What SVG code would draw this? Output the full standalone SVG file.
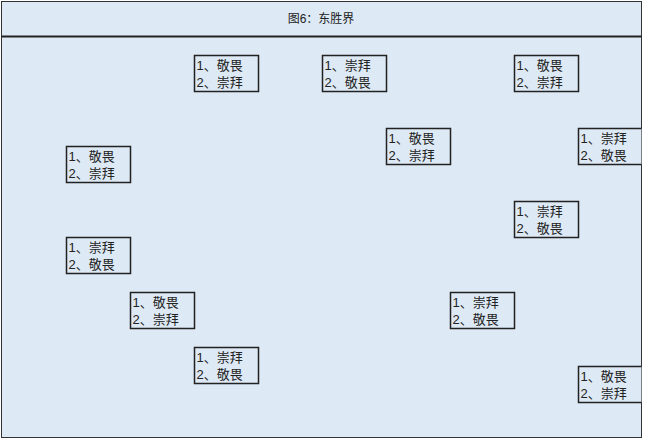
<svg xmlns="http://www.w3.org/2000/svg" width="647" height="441" viewBox="0 0 647 441">
<style>
.bg{fill:#dde9f5;stroke:#333;stroke-width:1}
.box{fill:#dde9f5;stroke:#222;stroke-width:1.5}
text{font-family:"Liberation Sans","Noto Sans CJK SC",sans-serif;font-size:13px;fill:#222}
.title{font-size:12px}
</style>
<rect x="0" y="0" width="647" height="441" fill="#ffffff"/>
<rect class="bg" x="1.5" y="1.5" width="640" height="436"/>
<line x1="1.5" y1="36.5" x2="641.5" y2="36.5" stroke="#222" stroke-width="2"/>
<text class="title" x="321" y="23" text-anchor="middle">图6：东胜界</text>
<defs>
<clipPath id="frame"><rect x="1.5" y="1.5" width="640" height="436"/></clipPath>
</defs>
<g clip-path="url(#frame)">
<g id="n1" transform="translate(194.5,55.5)"><rect class="box" width="64" height="36"/><text x="2" y="14">1、敬畏</text><text x="2" y="31">2、崇拜</text></g>
<g id="n2" transform="translate(322.5,55.5)"><rect class="box" width="64" height="36"/><text x="2" y="14">1、崇拜</text><text x="2" y="31">2、敬畏</text></g>
<g id="n3" transform="translate(514.5,55.5)"><rect class="box" width="64" height="36"/><text x="2" y="14">1、敬畏</text><text x="2" y="31">2、崇拜</text></g>
<g id="n4" transform="translate(386.5,128.5)"><rect class="box" width="64" height="36"/><text x="2" y="14">1、敬畏</text><text x="2" y="31">2、崇拜</text></g>
<g id="n5" transform="translate(578.5,128.5)"><rect class="box" width="64" height="36"/><text x="2" y="14">1、崇拜</text><text x="2" y="31">2、敬畏</text></g>
<g id="n6" transform="translate(66.5,146.5)"><rect class="box" width="64" height="36"/><text x="2" y="14">1、敬畏</text><text x="2" y="31">2、崇拜</text></g>
<g id="n7" transform="translate(514.5,201.5)"><rect class="box" width="64" height="36"/><text x="2" y="14">1、崇拜</text><text x="2" y="31">2、敬畏</text></g>
<g id="n8" transform="translate(66.5,237.5)"><rect class="box" width="64" height="36"/><text x="2" y="14">1、崇拜</text><text x="2" y="31">2、敬畏</text></g>
<g id="n9" transform="translate(130.5,292.5)"><rect class="box" width="64" height="36"/><text x="2" y="14">1、敬畏</text><text x="2" y="31">2、崇拜</text></g>
<g id="n10" transform="translate(450.5,292.5)"><rect class="box" width="64" height="36"/><text x="2" y="14">1、崇拜</text><text x="2" y="31">2、敬畏</text></g>
<g id="n11" transform="translate(194.5,347.5)"><rect class="box" width="64" height="36"/><text x="2" y="14">1、崇拜</text><text x="2" y="31">2、敬畏</text></g>
<g id="n12" transform="translate(578.5,366.5)"><rect class="box" width="64" height="36"/><text x="2" y="14">1、敬畏</text><text x="2" y="31">2、崇拜</text></g>
</g>
<g id="connectors"></g>
</svg>
